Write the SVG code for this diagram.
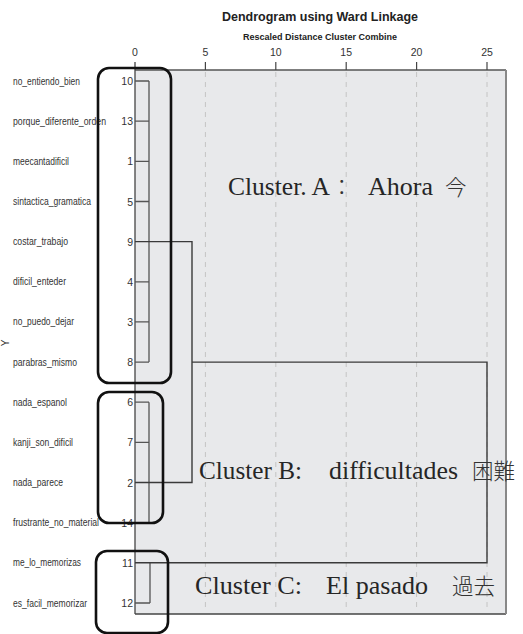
<svg xmlns="http://www.w3.org/2000/svg" width="523" height="634" viewBox="0 0 523 634">
<style>
.lbl{font-family:"Liberation Sans Narrow","Liberation Sans",Arial,sans-serif;font-size:10px;fill:#333}
.num{font-family:"Liberation Sans Narrow","Liberation Sans",Arial,sans-serif;font-size:10.5px;fill:#333;text-anchor:end}
.tick{font-family:"Liberation Sans Narrow","Liberation Sans",Arial,sans-serif;font-size:10.5px;fill:#333;text-anchor:middle}
.ttl{font-family:"Liberation Sans Narrow","Liberation Sans",Arial,sans-serif;font-weight:bold;fill:#222;text-anchor:middle}
.grid{stroke:#c4c4c4;stroke-width:1;stroke-dasharray:5,5}
.dl{stroke:#3a3a3a;stroke-width:1.4;fill:none}
.leaf{stroke:#555;stroke-width:1.3;fill:none}
.box{stroke:#111;stroke-width:2.6;fill:none}
.cl{font-family:"Liberation Serif","Noto Sans CJK JP",serif;font-size:25.5px;fill:#262626}
.cj{font-family:"Noto Sans CJK JP",serif;font-size:21.5px;font-weight:300;fill:#333}
</style>
<rect width="523" height="634" fill="#ffffff"/>
<g id="title">
<text class="ttl" x="320" y="21" font-size="13" textLength="196" lengthAdjust="spacingAndGlyphs">Dendrogram using Ward Linkage</text>
<text class="ttl" x="320" y="40" font-size="9" textLength="154" lengthAdjust="spacingAndGlyphs">Rescaled Distance Cluster Combine</text>
</g>
<g id="plot">
<rect x="135" y="70" width="371" height="544" fill="#e8e9eb"/>
<line class="grid" x1="205.4" y1="72" x2="205.4" y2="612"/>
<line class="grid" x1="275.8" y1="72" x2="275.8" y2="612"/>
<line class="grid" x1="346.2" y1="72" x2="346.2" y2="612"/>
<line class="grid" x1="416.6" y1="72" x2="416.6" y2="612"/>
<line class="grid" x1="487" y1="72" x2="487" y2="612"/>
<line x1="135" y1="70" x2="506" y2="70" stroke="#555" stroke-width="1.3"/>
<line x1="135" y1="614" x2="506" y2="614" stroke="#444" stroke-width="1.3"/>
<line x1="506" y1="70" x2="506" y2="614" stroke="#888" stroke-width="2"/>
<line x1="135" y1="62" x2="135" y2="614" stroke="#444" stroke-width="1.3"/>
<g stroke="#444" stroke-width="1.2">
<line x1="205.4" y1="62" x2="205.4" y2="70"/>
<line x1="275.8" y1="62" x2="275.8" y2="70"/>
<line x1="346.2" y1="62" x2="346.2" y2="70"/>
<line x1="416.6" y1="62" x2="416.6" y2="70"/>
<line x1="487" y1="62" x2="487" y2="70"/>
</g>
<text class="tick" x="135" y="56">0</text>
<text class="tick" x="205.4" y="56">5</text>
<text class="tick" x="275.8" y="56">10</text>
<text class="tick" x="346.2" y="56">15</text>
<text class="tick" x="416.6" y="56">20</text>
<text class="tick" x="487" y="56">25</text>
</g>
<g id="labels">
<text class="lbl" x="13" y="84.5" textLength="67" lengthAdjust="spacingAndGlyphs">no_entiendo_bien</text>
<text class="lbl" x="13" y="124.7" textLength="93" lengthAdjust="spacingAndGlyphs">porque_diferente_orden</text>
<text class="lbl" x="13" y="164.8" textLength="56" lengthAdjust="spacingAndGlyphs">meecantadificil</text>
<text class="lbl" x="13" y="205" textLength="78" lengthAdjust="spacingAndGlyphs">sintactica_gramatica</text>
<text class="lbl" x="13" y="245.1" textLength="55" lengthAdjust="spacingAndGlyphs">costar_trabajo</text>
<text class="lbl" x="13" y="285.3" textLength="53" lengthAdjust="spacingAndGlyphs">dificil_enteder</text>
<text class="lbl" x="13" y="325.4" textLength="61" lengthAdjust="spacingAndGlyphs">no_puedo_dejar</text>
<text class="lbl" x="13" y="365.6" textLength="64" lengthAdjust="spacingAndGlyphs">parabras_mismo</text>
<text class="lbl" x="13" y="405.7" textLength="54" lengthAdjust="spacingAndGlyphs">nada_espanol</text>
<text class="lbl" x="13" y="445.9" textLength="60" lengthAdjust="spacingAndGlyphs">kanji_son_dificil</text>
<text class="lbl" x="13" y="486" textLength="50" lengthAdjust="spacingAndGlyphs">nada_parece</text>
<text class="lbl" x="13" y="526.2" textLength="86" lengthAdjust="spacingAndGlyphs">frustrante_no_material</text>
<text class="lbl" x="13" y="566.3" textLength="68" lengthAdjust="spacingAndGlyphs">me_lo_memorizas</text>
<text class="lbl" x="13" y="606.5" textLength="74" lengthAdjust="spacingAndGlyphs">es_facil_memorizar</text>
<text class="num" x="133" y="85">10</text>
<text class="num" x="133" y="125.2">13</text>
<text class="num" x="133" y="165.3">1</text>
<text class="num" x="133" y="205.5">5</text>
<text class="num" x="133" y="245.6">9</text>
<text class="num" x="133" y="285.8">4</text>
<text class="num" x="133" y="325.9">3</text>
<text class="num" x="133" y="366.1">8</text>
<text class="num" x="133" y="406.2">6</text>
<text class="num" x="133" y="446.4">7</text>
<text class="num" x="133" y="486.5">2</text>
<text class="num" x="133" y="526.7">14</text>
<text class="num" x="133" y="566.8">11</text>
<text class="num" x="133" y="607">12</text>
<text class="lbl" transform="translate(9,343) rotate(-90)" text-anchor="middle">Y</text>
</g>
<g id="connectors">
<path class="leaf" d="M135,81H149M135,121.2H149M135,161.3H149M135,201.5H149M135,281.8H149M135,321.9H149M135,362.1H149M149,81V362.1"/>
<path class="leaf" d="M135,402.2H149M135,442.4H149M135,522.7H149M149,402.2V522.7"/>
<path class="leaf" d="M135,603H150M150,562.8V603"/>
<path class="dl" d="M135,241.6H192V482.5H135M192,362.1H487V562.8H135"/>
</g>
<g id="clusterA">
<rect class="box" x="98" y="68" width="73" height="315" rx="11"/>
<text class="cl" y="195"><tspan x="228" textLength="102" lengthAdjust="spacingAndGlyphs">Cluster. A</tspan><tspan class="cj" x="331">：</tspan><tspan x="368" textLength="65" lengthAdjust="spacingAndGlyphs">Ahora</tspan><tspan class="cj" x="445">今</tspan></text>
</g>
<g id="clusterB">
<rect class="box" x="98" y="392" width="65" height="131" rx="11"/>
<text class="cl" y="479"><tspan x="199" textLength="103" lengthAdjust="spacingAndGlyphs">Cluster B:</tspan><tspan x="329" textLength="129" lengthAdjust="spacingAndGlyphs">difficultades</tspan><tspan class="cj" x="472">困難</tspan></text>
</g>
<g id="clusterC">
<rect class="box" x="96" y="551" width="72" height="82" rx="11"/>
<text class="cl" y="594"><tspan x="195" textLength="107" lengthAdjust="spacingAndGlyphs">Cluster C:</tspan><tspan x="326" textLength="102" lengthAdjust="spacingAndGlyphs">El pasado</tspan><tspan class="cj" x="452">過去</tspan></text>
</g>
</svg>
